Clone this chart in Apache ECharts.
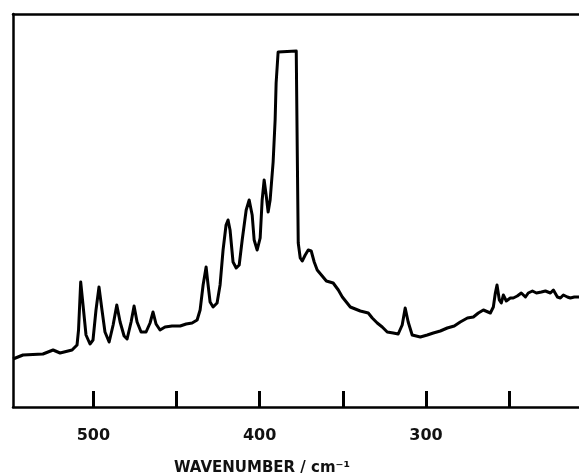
<!DOCTYPE html>
<html>
<head>
<meta charset="utf-8">
<script src="https://cdn.jsdelivr.net/npm/echarts@6/dist/echarts.min.js"></script>
<style>
html,body{margin:0;padding:0;background:#fff;}
#chart{width:579px;height:475px;}
</style>
</head>
<body>
<div id="chart"></div>
<script>
// Wavenumber (cm^-1) and intensity (arbitrary units)
const wavenumbers = [548.3,542.3,530.3,524.2,520.0,512.8,509.8,508.9,507.6,506.2,504.4,502.0,500.2,498.4,496.6,494.8,493.0,490.5,488.1,485.9,483.9,481.5,479.7,477.3,475.5,473.7,471.3,468.3,465.9,464.1,462.3,459.9,456.9,452.7,447.8,444.2,440.6,437.6,435.8,434.0,432.2,431.0,429.8,428.0,425.6,423.8,422.0,420.2,419.0,417.8,416.0,414.1,412.3,410.5,408.1,406.3,404.5,403.3,401.5,399.7,398.5,397.3,396.1,394.9,393.7,391.9,390.7,390.1,388.9,387.7,378.0,377.4,376.8,375.6,374.4,372.6,370.8,369.0,367.2,365.4,362.9,359.9,355.8,352.7,350.3,345.5,342.5,339.5,334.7,332.3,329.3,326.3,323.3,319.7,316.7,314.3,312.5,310.7,308.3,303.4,299.2,295.6,291.4,287.2,283.0,279.4,275.1,271.5,268.5,265.5,261.3,259.5,258.3,257.3,255.9,254.7,253.5,251.7,249.3,247.5,245.1,242.7,240.2,238.5,236.0,233.6,230.6,228.2,225.2,223.4,221.0,219.2,217.4,215.0,213.2,210.8,208.0];
const intensities = [48,52,53,57,54,57,62,77,125,102,72,63,67,97,120,97,75,65,82,102,85,71,68,85,101,85,75,75,84,95,83,77,80,81,81,83,84,87,97,122,140,122,105,100,104,122,157,182,187,177,145,139,142,167,197,207,192,167,157,169,207,227,212,195,207,245,287,324,355,356,356,257,164,149,146,152,157,156,145,137,132,126,124,117,110,100,98,96,94,89,84,80,75,74,73,82,99,85,72,70,72,74,76,79,81,85,89,90,94,97,94,100,114,122,107,104,112,106,109,109,111,114,110,114,116,114,115,116,114,117,110,109,112,110,109,110,110];
const tickValues = [500,450,400,350,300,250];
const labelValues = [500,400,300];
const axisTitle = 'WAVENUMBER / cm\u207B\u00B9';

const chart = echarts.init(document.getElementById('chart'), null, {renderer:'canvas'});
const seriesData = wavenumbers.map((w,i)=>[w,intensities[i]]);
const font = '"DejaVu Sans", "Liberation Sans", sans-serif';

chart.setOption({
  animation:false,
  backgroundColor:'#fff',
  grid:{left:13, right:0, top:14, height:393, containLabel:false, outerBoundsMode:'none'},
  xAxis:[{
    type:'value', min:208, max:548.3, inverse:true, position:'bottom',
    splitLine:{show:false},
    axisLine:{show:true, onZero:false, lineStyle:{color:'#000', width:2.5}},
    axisTick:{show:true, inside:true, length:16, customValues:tickValues, lineStyle:{color:'#000', width:3}},
    axisLabel:{show:true, customValues:labelValues, margin:21, color:'#111', fontSize:16, fontWeight:'bold', fontFamily:font}
  },{
    type:'value', min:208, max:548.3, inverse:true, position:'top',
    splitLine:{show:false},
    axisLine:{show:true, onZero:false, lineStyle:{color:'#000', width:2.5}},
    axisTick:{show:false}, axisLabel:{show:false}
  }],
  yAxis:{
    type:'value', min:0, max:393,
    splitLine:{show:false},
    axisLine:{show:true, onZero:false, lineStyle:{color:'#000', width:2.5}},
    axisTick:{show:false}, axisLabel:{show:false}
  },
  graphic:[{
    type:'text', x:262, y:468,
    style:{text:axisTitle, fill:'#111', font:'bold 15px ' + font, textAlign:'center', textVerticalAlign:'middle'}
  }],
  series:[{
    type:'line', data:seriesData, xAxisIndex:0, showSymbol:false, symbol:'none',
    lineStyle:{color:'#000', width:3, join:'round'}, clip:true
  }]
});
</script>
</body>
</html>
